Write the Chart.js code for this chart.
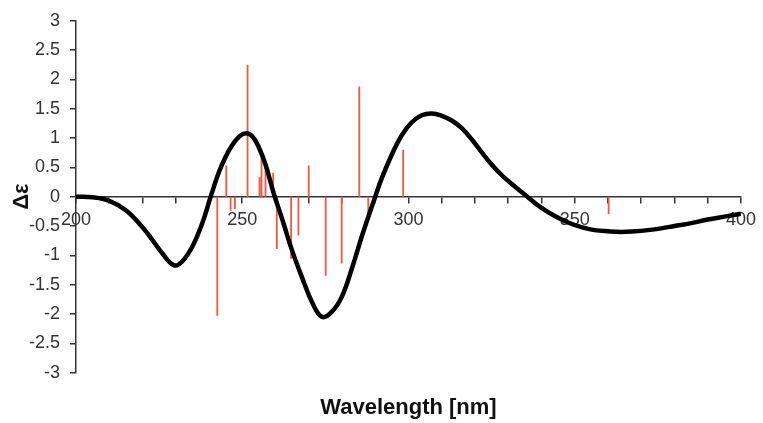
<!DOCTYPE html>
<html>
<head>
<meta charset="utf-8">
<script src="https://cdn.jsdelivr.net/npm/chart.js@4"></script>
<style>
    html, body { margin: 0; padding: 0; background: #fff; }
    canvas { display: block; }
</style>
</head>
<body>
<canvas id="cdChart" width="763" height="423"></canvas>
<script>
// Calculated CD spectrum (black curve)
const wavelengths = [200, 205, 210, 215, 220, 223, 226, 229.5, 232, 235, 238, 240.5, 243, 245, 247, 249, 251, 253, 255, 257, 259.5, 262, 265, 268, 271, 274, 277, 280, 283, 286, 288, 290, 292, 295, 298, 301, 304, 307, 310, 313, 316, 319, 322, 325, 328, 331, 334, 337, 340, 344, 348, 352, 356, 360, 364, 368, 372, 376, 380, 385, 390, 395, 400];
const deltaEps = [0, -0.01, -0.07, -0.23, -0.52, -0.74, -0.97, -1.17, -1.10, -0.85, -0.45, 0, 0.42, 0.68, 0.88, 1.02, 1.08, 1.03, 0.84, 0.55, 0.05, -0.38, -0.92, -1.38, -1.80, -2.05, -1.96, -1.70, -1.22, -0.67, -0.33, 0, 0.32, 0.72, 1.05, 1.27, 1.39, 1.42, 1.38, 1.30, 1.17, 0.98, 0.76, 0.55, 0.37, 0.22, 0.08, -0.06, -0.19, -0.33, -0.44, -0.52, -0.57, -0.59, -0.60, -0.59, -0.57, -0.54, -0.50, -0.45, -0.39, -0.34, -0.29];

// Rotatory strengths (red sticks)
const stickWavelengths = [242.5, 245.2, 246.5, 247.8, 251.6, 255.2, 255.8, 257.0, 259.3, 260.4, 264.7, 266.9, 270.0, 275.1, 279.9, 285.2, 287.9, 298.4, 360.2];
const stickValues = [-2.03, 0.53, -0.24, -0.21, 2.25, 0.33, 0.81, 0.58, 0.41, -0.89, -1.06, -0.66, 0.53, -1.35, -1.14, 1.88, -0.28, 0.80, -0.30];

const yTicks = [-3, -2.5, -2, -1.5, -1, -0.5, 0, 0.5, 1, 1.5, 2, 2.5, 3];

const fontFamily = '"Liberation Sans", Arial, sans-serif';
const axisColor = '#333';

// curve points
const curveData = wavelengths.map((w, i) => ({ x: w, y: deltaEps[i] }));

// each stick goes from zero to its value, separated by a gap
const stickData = [];
stickWavelengths.forEach((w, i) => {
    stickData.push({ x: w, y: 0 });
    stickData.push({ x: w, y: stickValues[i] });
    stickData.push({ x: w, y: null });
});

const ctx = document.getElementById('cdChart');

new Chart(ctx, {
    type: 'line',
    data: {
        datasets: [{
            data: curveData,
            borderColor: '#000',
            borderWidth: 4.5,
            pointRadius: 0,
            tension: 0.4,
            fill: false,
            order: 1
        }, {
            data: stickData,
            borderColor: 'rgb(242, 88, 62)',
            borderWidth: 1.8,
            pointRadius: 0,
            spanGaps: false,
            tension: 0,
            fill: false,
            order: 2
        }]
    },
    options: {
        responsive: false,
        animation: false,
        devicePixelRatio: 1,
        layout: {
            padding: { top: 20, right: 18, bottom: 0, left: 0 }
        },
        plugins: {
            legend: { display: false },
            tooltip: { enabled: false },
            title: {
                display: true,
                position: 'bottom',
                fullSize: false,
                text: 'Wavelength [nm]',
                color: '#111',
                font: { family: fontFamily, size: 22, weight: 'bold' },
                padding: { top: 22, bottom: 2 }
            }
        },
        scales: {
            x: {
                type: 'linear',
                position: { y: 0 },
                min: 200,
                max: 400,
                afterFit: function(scale) {
                    scale.height = 0;
                },
                ticks: {
                    stepSize: 10,
                    autoSkip: false,
                    maxRotation: 0,
                    padding: 7,
                    color: axisColor,
                    font: { family: fontFamily, size: 18 },
                    callback: function(value) {
                        return value % 50 === 0 ? String(value) : '';
                    }
                },
                grid: {
                    drawOnChartArea: false,
                    tickLength: 6,
                    color: axisColor,
                    lineWidth: 1.5
                },
                border: { color: axisColor, width: 1.5 }
            },
            y: {
                min: -3,
                max: 3,
                afterFit: function(scale) {
                    scale.width = 76;
                },
                afterBuildTicks: function(scale) {
                    scale.ticks = yTicks.map(v => ({ value: v }));
                },
                ticks: {
                    padding: 10,
                    color: axisColor,
                    font: { family: fontFamily, size: 18 },
                    callback: function(value) {
                        return String(value);
                    }
                },
                grid: {
                    drawOnChartArea: false,
                    tickLength: 6,
                    color: axisColor,
                    lineWidth: 1.5
                },
                border: { color: axisColor, width: 1.5 },
                title: {
                    display: true,
                    text: 'Δε',
                    color: '#111',
                    font: { family: fontFamily, size: 22, weight: 'bold' },
                    padding: { top: 9, bottom: 0 }
                }
            }
        }
    }
});
</script>
</body>
</html>
